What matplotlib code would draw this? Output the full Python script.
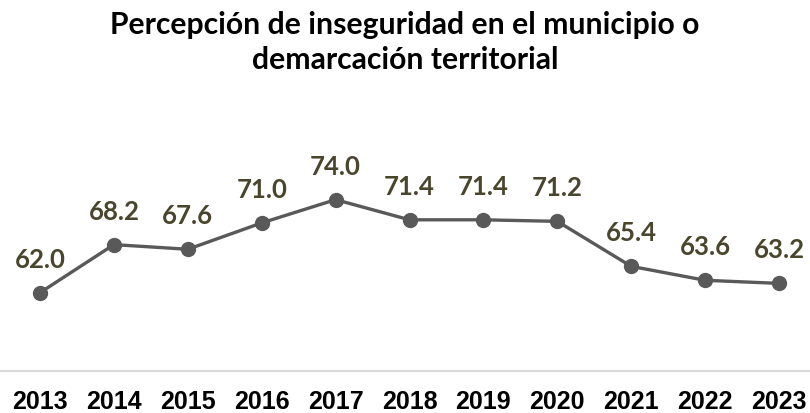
import matplotlib
matplotlib.use('Agg')
import matplotlib.pyplot as plt

## Data
years = ['2013', '2014', '2015', '2016', '2017', '2018', '2019', '2020', '2021', '2022', '2023']
values = [62.0, 68.2, 67.6, 71.0, 74.0, 71.4, 71.4, 71.2, 65.4, 63.6, 63.2]
title = 'Percepción de inseguridad en el municipio o\ndemarcación territorial'

# Styles
line_color = '#595959'
label_color = '#4a452d'

fig = plt.figure(figsize=(8.1, 4.14), dpi=100)
ax = fig.add_axes([0, 0.1014, 1, 0.5507])

x = list(range(len(years)))
ax.plot(x, values, color=line_color, linewidth=2.4, marker='o', markersize=10,
        markerfacecolor=line_color, markeredgecolor=line_color, zorder=3)

for xi, v in zip(x, values):
   ax.annotate('%.1f' % v, (xi, v), xytext=(0, 24.5), textcoords='offset points',
               ha='center', va='center', fontsize=18.5, fontweight='bold',
               family='Lato', color=label_color)

ax.set_xlim(-40/73.9, 770/73.9)
ax.set_ylim(51.9, 81.3)
ax.set_xticks(x)
ax.set_xticklabels(years, fontsize=18, fontweight='bold', family='Liberation Sans')
ax.tick_params(axis='x', length=0, pad=13)
ax.set_yticks([])
for s in ['top', 'left', 'right']:
   ax.spines[s].set_visible(False)
ax.spines['bottom'].set_color('#d9d9d9')
ax.spines['bottom'].set_linewidth(1.5)

fig.text(0.5, 0.897, title, ha='center', va='center', fontsize=21.7,
         fontweight='bold', family='Lato', linespacing=1.28)

fig.savefig('out.png', dpi=100)
